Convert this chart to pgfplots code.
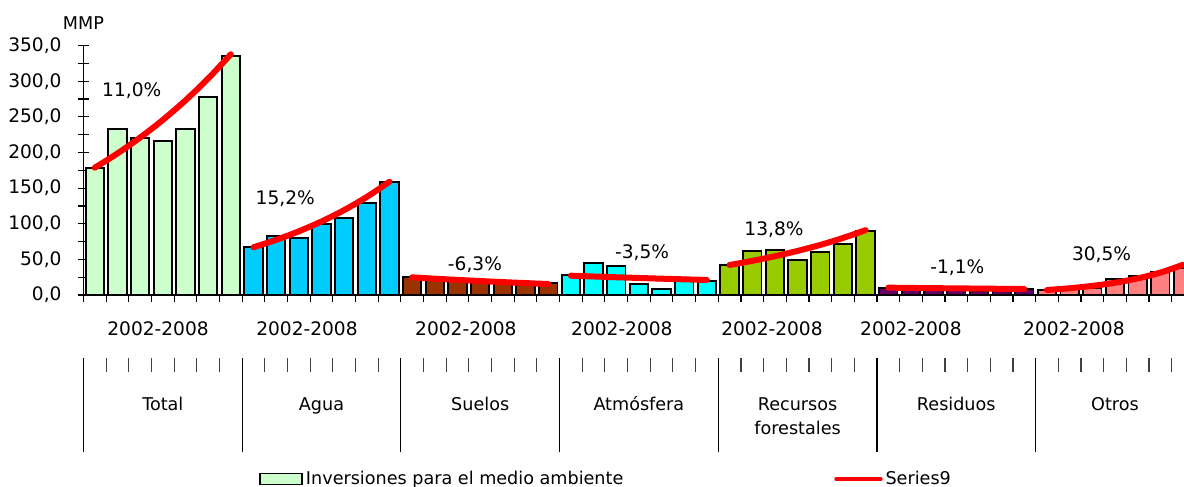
\documentclass[border=0pt]{standalone}
\usepackage{fontspec}
\setmainfont{DejaVu Sans}
\usepackage{pgfplots}
\pgfplotsset{compat=1.18}
\definecolor{cTotal}{RGB}{204,255,204}
\definecolor{cAgua}{RGB}{0,204,255}
\definecolor{cSuelos}{RGB}{153,51,0}
\definecolor{cAtm}{RGB}{0,255,255}
\definecolor{cRec}{RGB}{153,204,0}
\definecolor{cRes}{RGB}{102,0,102}
\definecolor{cOtros}{RGB}{255,128,128}
\newcommand{\cf}{\fontsize{8.8pt}{10.6pt}\selectfont}
\newcommand{\yf}{\fontsize{9.3pt}{11pt}\selectfont}
\begin{document}
\begin{tikzpicture}[x=0.5pt,y=0.5pt,font=\cf]
\path[use as bounding box] (0,0) rectangle (1184,487);
\clip (0,0) rectangle (1184,487);
\begin{axis}[
  at={(47.4pt,96pt)}, anchor=origin,
  x=11.335pt, y=0.3562pt,
  xmin=-0.5, xmax=48.5, ymin=0, ymax=350,
  axis lines=left,
  axis line style={-, black, line width=0.6pt},
  clip=false,
  xtick=\empty,
  ytick={0,50,...,350},
  minor ytick={25,75,...,325},
  tick align=center,
  major tick length=5.5pt, minor tick length=5.5pt,
  tick style={black, line width=0.6pt},
  yticklabel style={font=\yf, inner sep=0pt, anchor=east, xshift=-8pt,
    /pgf/number format/.cd, fixed, fixed zerofill, precision=1, use comma, assume math mode=true},
  legend columns=2,
  legend cell align=left,
  legend style={at={(0.158,-0.738)}, anchor=west, draw=none, fill=none,
    inner sep=0pt, font=\cf, nodes={inner sep=1.5pt},
    /tikz/every even column/.append style={column sep=104pt}},
  bar width=9.2pt,
]
\addplot[ybar, fill=cTotal, draw=black, line width=0.9pt,
  legend image code/.code={\draw[fill=cTotal, draw=black, line width=0.8pt] (0pt,-2.75pt) rectangle (21pt,2.75pt);}]
  coordinates {(0,178.7)(1,232.6)(2,220)(3,215.7)(4,232.6)(5,277.5)(6,336)};
\addlegendentry{Inversiones para el medio ambiente}
\addplot[ybar, fill=cAgua, draw=black, line width=0.9pt, forget plot]
  coordinates {(7,67.8)(8,82.4)(9,79.6)(10,100.1)(11,108.5)(12,128.7)(13,159)};
\addplot[ybar, fill=cSuelos, draw=black, line width=0.9pt, forget plot]
  coordinates {(14,24.8)(15,22)(16,21)(17,20)(18,19)(19,18)(20,16.4)};
\addplot[ybar, fill=cAtm, draw=black, line width=0.9pt, forget plot]
  coordinates {(21,27.6)(22,44.5)(23,40.7)(24,15.4)(25,8.4)(26,21)(27,20.1)};
\addplot[ybar, fill=cRec, draw=black, line width=0.9pt, forget plot]
  coordinates {(28,42.1)(29,62.2)(30,63.2)(31,48.7)(32,59.9)(33,72)(34,90.3)};
\addplot[ybar, fill=cRes, draw=black, line width=0.9pt, forget plot]
  coordinates {(35,10)(36,9)(37,9)(38,8)(39,6)(40,8)(41,8.5)};
\addplot[ybar, fill=cOtros, draw=black, line width=0.9pt, forget plot]
  coordinates {(42,7)(43,8)(44,10)(45,23)(46,27)(47,33)(48,38)};
% trend lines
\addplot[red, line width=3pt, smooth, line cap=round,
  legend image code/.code={\draw[red, line width=1.6pt] (0pt,0pt) -- (22.5pt,0pt);}]
  coordinates {(0,178.7)(1,198.7)(2,221)(3,245.7)(4,273.2)(5,303.8)(6,337.9)};
\addlegendentry{Series9}
\addplot[red, line width=3pt, smooth, line cap=round, forget plot]
  coordinates {(7,67)(8,77.4)(9,89.4)(10,103.2)(11,119.2)(12,137.7)(13,159)};
\addplot[red, line width=3pt, smooth, line cap=round, forget plot]
  coordinates {(14,24.8)(15,22.9)(16,21.2)(17,19.6)(18,18.1)(19,16.7)(20,15.4)};
\addplot[red, line width=3pt, smooth, line cap=round, forget plot]
  coordinates {(21,27.1)(22,26.0)(23,24.9)(24,23.9)(25,22.9)(26,22.0)(27,21.1)};
\addplot[red, line width=3pt, smooth, line cap=round, forget plot]
  coordinates {(28,42.1)(29,47.9)(30,54.4)(31,61.9)(32,70.3)(33,80)(34,91)};
\addplot[red, line width=3pt, smooth, line cap=round, forget plot]
  coordinates {(35,10.3)(36,9.9)(37,9.6)(38,9.3)(39,9.0)(40,8.7)(41,8.4)};
\addplot[red, line width=3pt, smooth, line cap=round, forget plot]
  coordinates {(42,7)(43,9.45)(44,12.8)(45,17.2)(46,23.3)(47,31.4)(48,42.4)};
% percentages
\node[font=\yf, anchor=base] at (axis cs:1.63,278.3) {11,0\%};
\node[font=\yf, anchor=base] at (axis cs:8.4,127.4) {15,2\%};
\node[font=\yf, anchor=base] at (axis cs:16.77,34.4) {-6,3\%};
\node[font=\yf, anchor=base] at (axis cs:24.14,51.3) {-3,5\%};
\node[font=\yf, anchor=base] at (axis cs:29.96,84.1) {13,8\%};
\node[font=\yf, anchor=base] at (axis cs:38.05,30.2) {-1,1\%};
\node[font=\yf, anchor=base] at (axis cs:44.41,49.0) {30,5\%};
% unit label
\node at ([yshift=11.35pt]axis cs:-0.5,350) {MMP};
% category axis decorations
\pgfplotsinvokeforeach{-0.5,0.5,...,48.5}{
  \draw[black, line width=0.6pt] (axis cs:#1,0) -- ++(0pt,-3.6pt);
  \draw[black!75, line width=0.6pt] ([yshift=-31.65pt]axis cs:#1,0) -- ++(0pt,-6.7pt);
}
\pgfplotsinvokeforeach{-0.5,6.5,...,48.5}{
  \draw[black, line width=0.6pt] ([yshift=-31.65pt]axis cs:#1,0) -- ++(0pt,-46.7pt);
}
\node[font=\yf] at ([yshift=-16.85pt]axis cs:2.79,0) {2002-2008};
\node[font=\yf] at ([yshift=-16.85pt]axis cs:9.36,0) {2002-2008};
\node[font=\yf] at ([yshift=-16.85pt]axis cs:16.37,0) {2002-2008};
\node[font=\yf] at ([yshift=-16.85pt]axis cs:23.25,0) {2002-2008};
\node[font=\yf] at ([yshift=-16.85pt]axis cs:29.87,0) {2002-2008};
\node[font=\yf] at ([yshift=-16.85pt]axis cs:36.0,0) {2002-2008};
\node[font=\yf] at ([yshift=-16.85pt]axis cs:43.19,0) {2002-2008};
\node[anchor=base] at ([yshift=-57.7pt]axis cs:3,0) {Total};
\node[anchor=base] at ([yshift=-57.7pt]axis cs:10,0) {Agua};
\node[anchor=base] at ([yshift=-57.7pt]axis cs:17,0) {Suelos};
\node[anchor=base] at ([yshift=-57.7pt]axis cs:24,0) {Atmósfera};
\node[anchor=base] at ([yshift=-57.7pt]axis cs:31,0) {Recursos};
\node[anchor=base] at ([yshift=-69.85pt]axis cs:31,0) {forestales};
\node[anchor=base] at ([yshift=-57.7pt]axis cs:38,0) {Residuos};
\node[anchor=base] at ([yshift=-57.7pt]axis cs:45,0) {Otros};
\end{axis}
\end{tikzpicture}
\end{document}
